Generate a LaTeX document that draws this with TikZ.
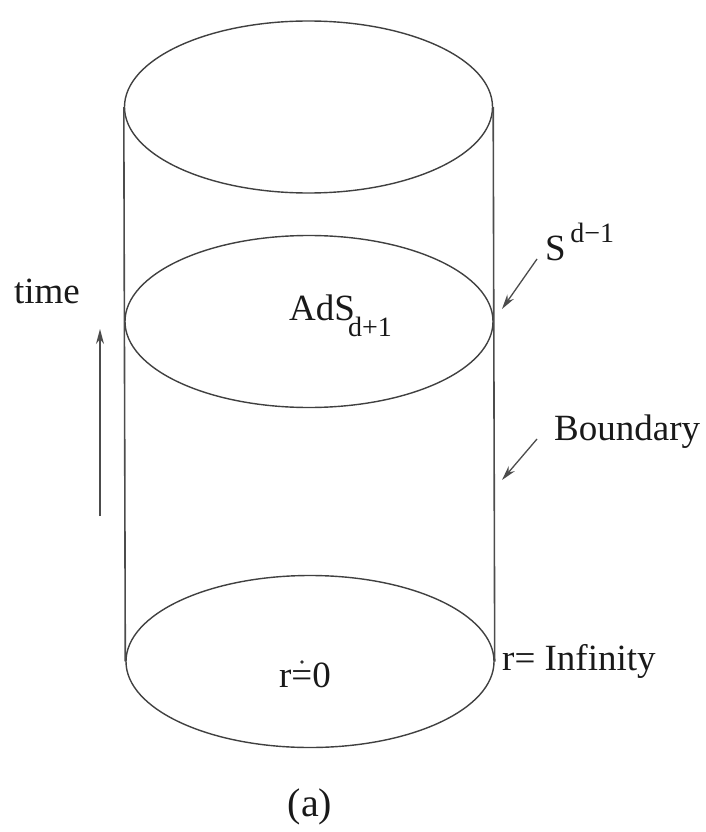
\documentclass[tikz,border=0pt]{standalone}
\usepackage{fontspec}
\setmainfont{Liberation Serif}
\usepackage{tikz}
\usetikzlibrary{arrows.meta,positioning,shapes.geometric}

\newcommand{\smalltext}[1]{{\fontsize{28}{30}\selectfont #1}}

\begin{document}
\begin{tikzpicture}[
    x=1pt, y=-1pt,
    disc/.style={ellipse, draw=black!75, line width=1.4pt, inner sep=0pt, minimum width=368pt, minimum height=172pt},
    wall/.style={draw=black!70, line width=1.6pt},
    arrow/.style={-{Stealth[length=15pt,width=8pt]}, draw=black!70, line width=1.3pt},
    label/.style={inner sep=0pt, text=black!90, font=\fontsize{37}{40}\selectfont}
]
\useasboundingbox (0,0) rectangle (705,832);

\node[disc] (top) at (308.5,107) {};
\node[disc] (mid) at (309,321.5) {};
\node[disc] (bot) at (310,661.5) {};

\draw[wall] (top.west) -- (bot.west);
\draw[wall] (top.east) -- (bot.east);

\node[label, anchor=base west] (ads) at (289,320) {AdS\kern-7pt\raisebox{-16pt}{\smalltext{d+1}}};
\node[label, anchor=base west] (sphere) at (545,260) {S\kern4.5pt\raisebox{18pt}{\smalltext{d−1}}};
\node[label, anchor=base west] (bdry) at (554,440) {Boundary};
\node[label, anchor=base west] (rinf) at (502,670) {r= Infinity};
\node[label, anchor=base] (rzero) at (305,687) {r=0};
\node[label, anchor=base] (time) at (47,303) {time};
\node[label, anchor=base, font=\fontsize{40}{44}\selectfont] (sub) at (310,816) {(a)};

\coordinate (tstart) at (100,516);
\coordinate (tend) at (100,329);
\coordinate (sstart) at (537,259);
\coordinate (send) at (502,309);
\coordinate (bstart) at (537,439);
\coordinate (bend) at (502,480);
\coordinate (dot) at (302,662);

\draw[arrow] (tstart) -- (tend);
\draw[arrow] (sstart) -- (send);
\draw[arrow] (bstart) -- (bend);
\fill[black!80] (dot) circle (1.8pt);

\end{tikzpicture}
\end{document}
